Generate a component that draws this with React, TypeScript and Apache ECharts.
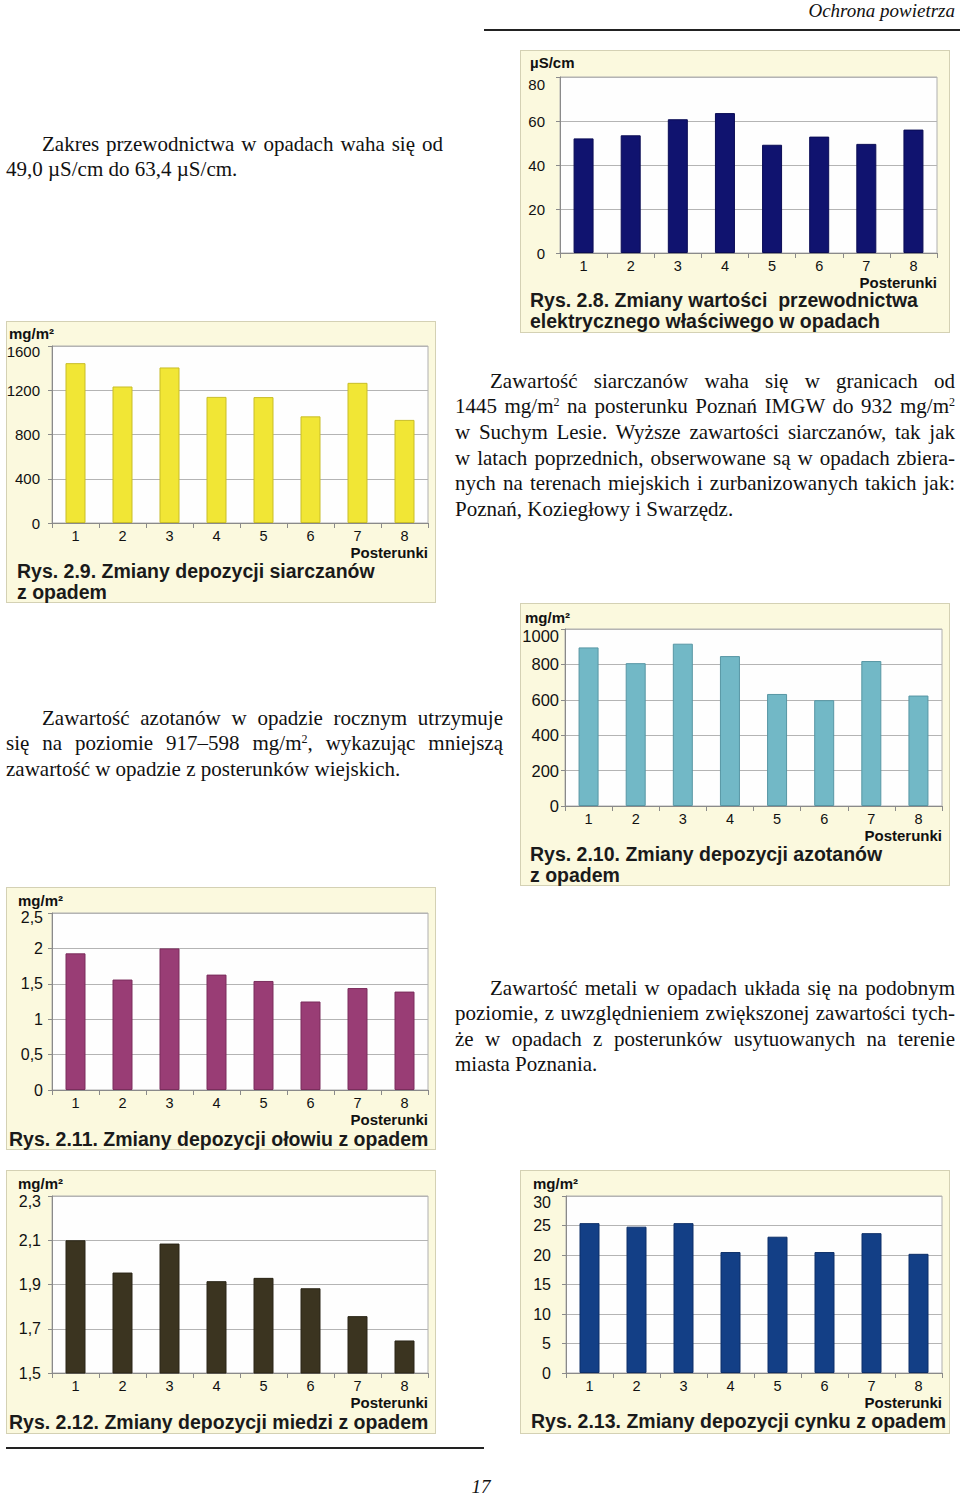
import React, { useEffect, useRef } from "react";
import * as echarts from "echarts";

// ---------- DATA ----------
const posterunki = ["1", "2", "3", "4", "5", "6", "7", "8"];
const przewodnictwo = [52.1, 53.5, 60.8, 63.6, 49.2, 52.9, 49.6, 56.1]; // µS/cm
const siarczany = [1445, 1234, 1406, 1140, 1138, 964, 1267, 932]; // mg/m2
const azotany = [896, 807, 917, 847, 633, 598, 819, 624]; // mg/m2
const olow = [1.93, 1.56, 2.0, 1.63, 1.54, 1.25, 1.44, 1.39]; // mg/m2
const miedz = [2.1, 1.954, 2.085, 1.915, 1.93, 1.883, 1.757, 1.647]; // mg/m2
const cynk = [25.4, 24.8, 25.4, 20.5, 23.1, 20.5, 23.7, 20.2]; // mg/m2

const captions = [
  ["Rys. 2.8. Zmiany wartości  przewodnictwa", "elektrycznego właściwego w opadach"],
  ["Rys. 2.9. Zmiany depozycji siarczanów", "z opadem"],
  ["Rys. 2.10. Zmiany depozycji azotanów", "z opadem"],
  ["Rys. 2.11. Zmiany depozycji ołowiu z opadem"],
  ["Rys. 2.12. Zmiany depozycji miedzi z opadem"],
  ["Rys. 2.13. Zmiany depozycji cynku z opadem"],
];
const units = ["µS/cm", "mg/m²", "mg/m²", "mg/m²", "mg/m²", "mg/m²"];
const xAxisName = "Posterunki";

const para1 = ["Zakres przewodnictwa w opadach waha się od", "49,0 µS/cm do 63,4 µS/cm."];
const para2 = [
  "Zawartość siarczanów waha się w granicach od",
  "1445 mg/m² na posterunku Poznań IMGW do 932 mg/m²",
  "w Suchym Lesie. Wyższe zawartości siarczanów, tak jak",
  "w latach poprzednich, obserwowane są w opadach zbiera-",
  "nych na terenach miejskich i zurbanizowanych takich jak:",
  "Poznań, Koziegłowy i Swarzędz.",
];
const para3 = [
  "Zawartość azotanów w opadzie rocznym utrzymuje",
  "się na poziomie 917–598 mg/m², wykazując mniejszą",
  "zawartość w opadzie z posterunków wiejskich.",
];
const para4 = [
  "Zawartość metali w opadach układa się na podobnym",
  "poziomie, z uwzględnieniem zwiększonej zawartości tych-",
  "że w opadach z posterunków usytuowanych na terenie",
  "miasta Poznania.",
];

// ---------- LAYOUT ----------
const SANS = '"Liberation Sans", Arial, sans-serif';
const SERIF = '"Liberation Serif", "Times New Roman", serif';

const plain = (v: number) => String(v);
const comma = (v: number) => String(v).replace(".", ",");
const comma1 = (v: number) => v.toFixed(1).replace(".", ",");

const specs = [
  { data: przewodnictwo, color: "#10136f", border: "#0a0c55", min: 0, max: 80, interval: 20, grid: { left: 560, top: 77, width: 377, height: 176 }, panel: [520, 50, 430, 283], unitPos: [530, 62], capPos: [530, 300], yFont: 15, yMargin: 15, fmt: plain, topShift: 14 },
  { data: siarczany, color: "#f1e635", border: "#c8bd28", min: 0, max: 1600, interval: 400, grid: { left: 52, top: 346, width: 376, height: 177 }, panel: [6, 321, 430, 282], unitPos: [9, 333], capPos: [17, 571], yFont: 15, yMargin: 12, fmt: plain, topShift: 10 },
  { data: azotany, color: "#72b8c6", border: "#5796a4", min: 0, max: 1000, interval: 200, grid: { left: 565, top: 629, width: 377, height: 177 }, panel: [520, 603, 430, 283], unitPos: [525, 617], capPos: [530, 854], yFont: 16.5, yMargin: 6, fmt: plain, topShift: 14 },
  { data: olow, color: "#993d75", border: "#7a2d5c", min: 0, max: 2.5, interval: 0.5, grid: { left: 52, top: 913, width: 376, height: 177 }, panel: [6, 887, 430, 263], unitPos: [18, 900], capPos: [9, 1139], yFont: 16, yMargin: 9, fmt: comma, topShift: 8 },
  { data: miedz, color: "#3b3420", border: "#2a2516", min: 1.5, max: 2.3, interval: 0.2, grid: { left: 52, top: 1196, width: 376, height: 177 }, panel: [6, 1170, 430, 264], unitPos: [18, 1183], capPos: [9, 1422], yFont: 16, yMargin: 11, fmt: comma1, topShift: 10 },
  { data: cynk, color: "#133f86", border: "#0d2f68", min: 0, max: 30, interval: 5, grid: { left: 566, top: 1196, width: 376, height: 177 }, panel: [520, 1170, 430, 264], unitPos: [533, 1183], capPos: [531, 1421], yFont: 16, yMargin: 15, fmt: plain, topShift: 12 },
];

function buildOption() {
  const grid: any[] = [];
  const xAxis: any[] = [];
  const yAxis: any[] = [];
  const series: any[] = [];
  const graphic: any[] = [];
  specs.forEach((s, i) => {
    grid.push({
      ...s.grid,
      show: true,
      backgroundColor: "#fefefe",
      borderColor: "#b0b0b0",
      borderWidth: 1,
      containLabel: false,
    });
    xAxis.push({
      type: "category",
      gridIndex: i,
      data: posterunki,
      axisLine: { lineStyle: { color: "#8a8a8a", width: 1 } },
      axisTick: { show: true, length: 5, lineStyle: { color: "#8a8a8a" } },
      axisLabel: { fontSize: 14.5, lineHeight: 14, color: "#111", fontFamily: SANS, margin: 5.5 },
    });
    yAxis.push({
      type: "value",
      gridIndex: i,
      min: s.min,
      max: s.max,
      interval: s.interval,
      axisLine: { show: true, lineStyle: { color: "#8a8a8a" } },
      axisTick: { show: true, length: 4, lineStyle: { color: "#8a8a8a" } },
      splitLine: { show: true, lineStyle: { color: "#b4b4b4", width: 1 } },
      axisLabel: {
        fontSize: s.yFont,
        color: "#111",
        fontFamily: SANS,
        margin: s.yMargin,
        formatter: (v: number) => {
          const t = s.fmt(v);
          return Math.abs(v - s.max) < 1e-9 ? `{top|${t}}` : t;
        },
        rich: {
          top: {
            fontSize: s.yFont,
            fontFamily: SANS,
            color: "#111",
            padding: [s.topShift, 0, 0, 0],
          },
        },
      },
    });
    series.push({
      type: "bar",
      xAxisIndex: i,
      yAxisIndex: i,
      data: s.data,
      barWidth: 20,
      itemStyle: { color: s.color, borderColor: s.border, borderWidth: 1 },
      silent: true,
    });
    graphic.push({
      type: "text",
      x: s.unitPos[0],
      y: s.unitPos[1],
      silent: true,
      style: {
        text: units[i],
        fill: "#111",
        font: `bold 15px ${SANS}`,
        align: "left",
        textAlign: "left",
        verticalAlign: "middle",
        textVerticalAlign: "middle",
      },
    });
    graphic.push({
      type: "text",
      x: s.grid.left + s.grid.width,
      y: s.grid.top + s.grid.height + 29.5,
      silent: true,
      style: {
        text: xAxisName,
        fill: "#111",
        font: `bold 15px ${SANS}`,
        lineHeight: 14,
        align: "right",
        textAlign: "right",
        verticalAlign: "middle",
        textVerticalAlign: "middle",
      },
    });
    captions[i].forEach((line, k) => {
      graphic.push({
        type: "text",
        x: s.capPos[0],
        y: s.capPos[1] + k * 21,
        silent: true,
        style: {
          text: line,
          fill: "#1a1a1a",
          font: `bold 19.5px ${SANS}`,
          align: "left",
          textAlign: "left",
          verticalAlign: "middle",
          textVerticalAlign: "middle",
        },
      });
    });
  });
  return { animation: false, grid, xAxis, yAxis, series, graphic };
}

function renderLine(text: string) {
  const parts = text.split("²");
  const out: any[] = [];
  parts.forEach((p, i) => {
    out.push(<span key={"t" + i}>{p}</span>);
    if (i < parts.length - 1)
      out.push(
        <sup key={"s" + i} style={{ fontSize: 12, lineHeight: 0, verticalAlign: "7px" }}>
          2
        </sup>
      );
  });
  return out;
}

function Paragraph({ lines, left, width, tops, indent }: { lines: string[]; left: number; width: number; tops: number[]; indent: number }) {
  return (
    <>
      {lines.map((ln, i) => {
        const last = i === lines.length - 1;
        const l = i === 0 ? left + indent : left;
        const w = i === 0 ? width - indent : width;
        return (
          <div
            key={i}
            style={{
              position: "absolute",
              left: l,
              top: tops[i] - 14,
              width: w,
              height: 26,
              lineHeight: "26px",
              fontFamily: SERIF,
              fontSize: 21,
              color: "#111",
              whiteSpace: "nowrap",
              textAlign: last ? "left" : "justify",
              textAlignLast: last ? "left" : "justify",
            } as any}
          >
            {renderLine(ln)}
          </div>
        );
      })}
    </>
  );
}

export default function App() {
  const ref = useRef<HTMLDivElement>(null);
  useEffect(() => {
    if (!ref.current) return;
    const chart = echarts.init(ref.current, null, { renderer: "svg" });
    chart.setOption(buildOption() as any);
    return () => chart.dispose();
  }, []);

  return (
    <div style={{ position: "absolute", left: 0, top: 0, width: 960, height: 1496, background: "#ffffff", overflow: "hidden" }}>
      {specs.map((s, i) => (
        <div
          key={i}
          style={{
            position: "absolute",
            left: s.panel[0],
            top: s.panel[1],
            width: s.panel[2],
            height: s.panel[3],
            background: "#fbf9de",
            border: "1px solid #d4d1b4",
            boxSizing: "border-box",
          }}
        />
      ))}
      <div ref={ref} style={{ position: "absolute", left: 0, top: 0, width: 960, height: 1496 }} />
      {/* header */}
      <div style={{ position: "absolute", right: 5, top: 0, height: 22, lineHeight: "22px", fontFamily: SERIF, fontStyle: "italic", fontSize: 19, color: "#111", whiteSpace: "nowrap" }}>
        Ochrona powietrza
      </div>
      <div style={{ position: "absolute", left: 484, top: 29, width: 476, height: 2, background: "#222" }} />
      {/* paragraphs */}
      <Paragraph lines={para1} left={6} width={437} tops={[145, 170]} indent={36} />
      <Paragraph lines={para2} left={455} width={500} tops={[382, 407, 433, 459, 484, 510]} indent={35} />
      <Paragraph lines={para3} left={6} width={497} tops={[719, 744, 770]} indent={36} />
      <Paragraph lines={para4} left={455} width={500} tops={[989, 1014, 1040, 1065]} indent={35} />
      {/* footer */}
      <div style={{ position: "absolute", left: 6, top: 1447, width: 478, height: 2, background: "#222" }} />
      <div style={{ position: "absolute", left: 461, top: 1476, width: 40, textAlign: "center", fontFamily: SERIF, fontStyle: "italic", fontSize: 19, color: "#111" }}>
        17
      </div>
    </div>
  );
}
